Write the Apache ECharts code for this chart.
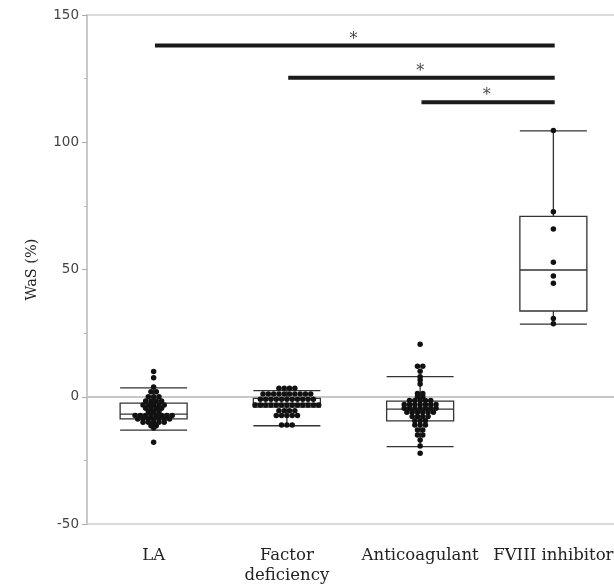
<!DOCTYPE html>
<html>
<head>
<meta charset="utf-8">
<script src="https://cdn.jsdelivr.net/npm/echarts@6/dist/echarts.min.js"></script>
<style>
  html, body { margin: 0; padding: 0; background: #fff; }
  #chart { width: 614px; height: 587px; }
</style>
</head>
<body>
<div id="chart"></div>
<script>
// groups on the x axis
const categories = ['LA', 'Factor\ndeficiency', 'Anticoagulant', 'FVIII inhibitor'];

// individual WaS values per group (equal values = one row of dots)
const laValues = [9.9, 7.5, 3.8, 2.0, 2.0, 0, 0, 0, -1.7, -1.7, -1.7, -1.7,
  -3.2, -3.2, -3.2, -3.2, -3.2, -4.5, -4.5, -4.5, -4.5, -5.9, -5.9, -5.9,
  -7.4, -7.4, -7.4, -7.4, -7.4, -7.4, -7.4, -7.4,
  -8.7, -8.7, -8.7, -8.7, -8.7, -8.7, -8.7,
  -10, -10, -10, -10, -10, -11.4, -11.4, -12.3, -17.9];
const factorValues = [3.3, 3.3, 3.3, 3.3,
  1.1, 1.1, 1.1, 1.1, 1.1, 1.1, 1.1, 1.1, 1.1, 1.1,
  -1.0, -1.0, -1.0, -1.0, -1.0, -1.0, -1.0, -1.0, -1.0, -1.0, -1.0,
  -3.2, -3.2, -3.2, -3.2, -3.2, -3.2, -3.2, -3.2, -3.2, -3.2, -3.2, -3.2, -3.2,
  -5.5, -5.5, -5.5, -5.5, -7.4, -7.4, -7.4, -7.4, -7.4, -11.1, -11.1, -11.1];
const anticoagValues = [20.6, 12, 12, 10, 7.9, 6.6, 5.0, 1.3, 1.3, 0, 0,
  -1.5, -1.5, -1.5, -1.5, -1.5,
  -3.0, -3.0, -3.0, -3.0, -3.0, -3.0, -3.0,
  -4.5, -4.5, -4.5, -4.5, -4.5, -4.5, -4.5,
  -6.1, -6.1, -6.1, -6.1, -6.1, -6.1,
  -7.8, -7.8, -7.8, -7.8, -9.4, -9.4, -9.4, -11.1, -11.1, -11.1,
  -13.1, -13.1, -15, -15, -17, -19.4, -22.2];
const fviiiValues = [104.6, 72.7, 65.9, 52.8, 47.4, 44.6, 30.7, 28.7];

// box stats per group: [lower whisker, Q1, median, Q3, upper whisker]
const boxStats = [
  [-13.1, -8.7, -6.8, -2.5, 3.5],
  [-11.4, -4.1, -2.6, -0.6, 2.4],
  [-19.6, -9.5, -4.9, -1.7, 7.9],
  [28.5, 33.7, 49.8, 70.9, 104.5]
];

// significance brackets: from group, to group, height, mark
const sigFrom = [0, 1, 2];
const sigTo = [3, 3, 3];
const sigLevel = [138, 125.3, 115.7];
const sigMark = ['*', '*', '*'];

const chart = echarts.init(document.getElementById('chart'));

const plotWidth = 533;
const bandPx = plotWidth / categories.length;
const dotStep = 5.3 / bandPx;

// simple beeswarm: dots with the same value are spread side by side
function swarm(vals, idx) {
  const counts = {};
  vals.forEach(v => { counts[v] = (counts[v] || 0) + 1; });
  const seen = {};
  return vals.map(v => {
    const n = counts[v];
    const k = seen[v] = (seen[v] === undefined ? 0 : seen[v] + 1);
    return [idx + (k - (n - 1) / 2) * dotStep, v];
  });
}

const groups = [laValues, factorValues, anticoagValues, fviiiValues];
let dots = [];
groups.forEach((g, i) => { dots = dots.concat(swarm(g, i)); });

const sigSeries = sigFrom.map((f, i) => ({
  type: 'line',
  xAxisIndex: 1,
  data: [[f + 0.01, sigLevel[i]], [sigTo[i] + 0.01, sigLevel[i]]],
  showSymbol: false,
  symbol: 'none',
  silent: true,
  lineStyle: { color: '#1a1a1a', width: 4 },
  z: 5
}));

const option = {
  animation: false,
  grid: {
    left: 87, width: plotWidth, top: 15, bottom: 63,
    outerBoundsMode: 'none',
    containLabel: false,
    show: true, borderColor: '#cfcfcf', borderWidth: 1.5, backgroundColor: 'transparent'
  },
  xAxis: [
    {
      type: 'category',
      data: categories,
      boundaryGap: true,
      axisLine: { lineStyle: { color: '#c8c8c8', width: 2 } },
      axisTick: { show: false },
      axisLabel: {
        color: '#222', fontFamily: 'DejaVu Serif', fontSize: 16.5,
        margin: 22, lineHeight: 20, interval: 0, hideOverlap: false
      },
      splitLine: { show: false }
    },
    {
      type: 'value',
      min: -0.5, max: 3.5,
      show: false
    }
  ],
  yAxis: {
    type: 'value',
    min: -50, max: 150, interval: 50,
    name: 'WaS (%)',
    nameLocation: 'middle',
    nameGap: 47,
    nameTextStyle: { color: '#222', fontFamily: 'DejaVu Serif', fontSize: 14.5 },
    axisLine: { show: true, onZero: false, lineStyle: { color: '#c8c8c8', width: 2 } },
    axisTick: { show: true, length: 5, lineStyle: { color: '#aaa' } },
    minorTick: { show: true, splitNumber: 2, length: 3, lineStyle: { color: '#bbb' } },
    axisLabel: { color: '#444', fontFamily: 'DejaVu Sans', fontSize: 13.5, margin: 8 },
    splitLine: { show: false }
  },
  series: [
    {
      type: 'boxplot',
      data: boxStats,
      boxWidth: [67, 67],
      itemStyle: { color: 'transparent', borderColor: '#333', borderWidth: 1.3 },
      silent: true,
      z: 2
    },
    {
      type: 'scatter',
      xAxisIndex: 1,
      data: dots,
      symbolSize: 5.5,
      itemStyle: { color: '#111', opacity: 1 },
      z: 4
    },
    ...sigSeries,
    {
      type: 'scatter',
      xAxisIndex: 1,
      data: sigFrom.map((f, i) => [(f + sigTo[i]) / 2, sigLevel[i]]),
      symbolSize: 0,
      label: {
        show: true,
        position: 'top',
        distance: -2,
        formatter: p => sigMark[p.dataIndex],
        color: '#111',
        fontFamily: 'DejaVu Serif',
        fontSize: 16
      },
      z: 6
    }
  ]
};

chart.setOption(option);
</script>
</body>
</html>
